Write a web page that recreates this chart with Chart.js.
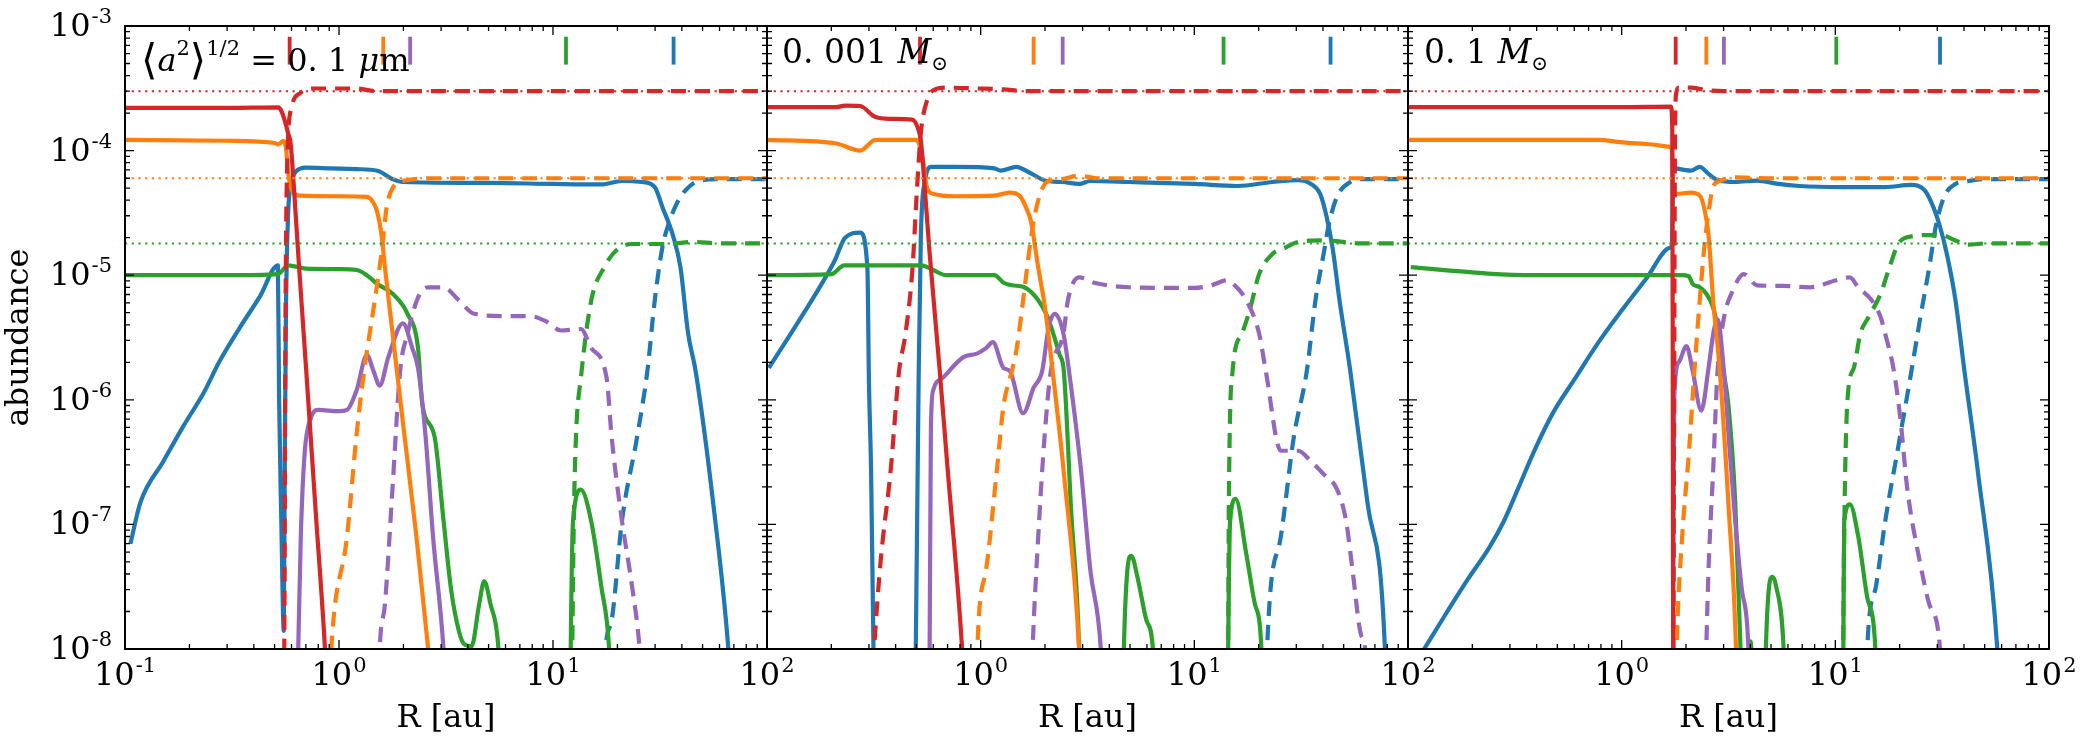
<!DOCTYPE html>
<html>
<head>
<meta charset="utf-8">
<script src="https://cdn.jsdelivr.net/npm/chart.js@4.4.1/dist/chart.umd.min.js"></script>
<style>
  html, body { margin: 0; padding: 0; background: #fff; }
  #wrap { position: relative; width: 2091px; height: 747px; }
  #wrap canvas { position: absolute; left: 0; top: 0; }
</style>
</head>
<body>
<div id="wrap">
  <canvas id="p1" width="2091" height="747"></canvas>
  <canvas id="p2" width="2091" height="747"></canvas>
  <canvas id="p3" width="2091" height="747"></canvas>
</div>
<script>
const FONT = 'DejaVu Serif';
const COLORS = ['#d62728', '#ff7f0e', '#9467bd', '#2ca02c', '#1f77b4']; // red, orange, purple, green, blue

// total abundances (dotted)
const TOTALS = [3.0e-4, 6.0e-5, 1.8e-5];
const TOTAL_COLORS = ['#d62728', '#ff7f0e', '#2ca02c'];

const X_TICKS = [0.1, 1, 10, 100];
const Y_TICKS = [1e-8, 1e-7, 1e-6, 1e-5, 1e-4, 1e-3];

// snowline markers at the top of each panel (red, orange, purple, green, blue)
const P1_SNOW = [0.588, 1.61, 2.15, 11.5, 36.6];
const P2_SNOW = [0.52, 1.77, 2.42, 13.7, 43.4];
const P3_SNOW = [1.79, 2.49, 3.01, 10.1, 30.9];
const SNOW_SPAN = [4.9e-4, 8.2e-4];

// ---- panel 1: <a^2>^1/2 = 0.1 um ----
const P1_RED_SOLID = [[0.1,2.2e-4],[0.3,2.2e-4],[0.52,2.22e-4],[0.54,2.05e-4],[0.56,1.7e-4],[0.58,1.35e-4],[0.594,1.15e-4],[0.62,4.2e-5],[0.65,1.2e-5],[0.7,1.9e-6],[0.78,1.2e-7],[0.86,1e-8],[0.9,2e-9]];
const P1_RED_DASHED = [[0.545,1e-9],[0.555,1e-8],[0.56,1e-6],[0.565,1.5e-5],[0.575,1e-4],[0.6,2.2e-4],[0.66,2.9e-4],[0.78,3.15e-4],[1.2,3.15e-4],[1.5,3.0e-4],[100,3.0e-4]];
const P1_ORANGE_SOLID = [[0.1,1.22e-4],[0.3,1.2e-4],[0.5,1.15e-4],[0.52,1.12e-4],[0.55,1.2e-4],[0.565,1.05e-4],[0.58,6.5e-5],[0.61,4.6e-5],[0.66,4.35e-5],[1.0,4.3e-5],[1.35,4.25e-5],[1.45,3.8e-5],[1.51,3.2e-5],[1.58,2.1e-5],[1.64,1.15e-5],[1.78,3.4e-6],[1.99,6.5e-7],[2.3,8e-8],[2.61,1e-8],[2.8,3e-9]];
const P1_ORANGE_DASHED = [[0.9,4e-9],[0.92,1e-8],[1.09,8e-8],[1.21,5.4e-7],[1.31,1.7e-6],[1.47,6.3e-6],[1.58,1.5e-5],[1.67,3.5e-5],[1.79,5.1e-5],[2.03,5.75e-5],[3,6e-5],[100,6e-5]];
const P1_PURPLE_SOLID = [[0.64,5e-9],[0.645,1e-8],[0.663,8e-8],[0.69,3.6e-7],[0.74,7.2e-7],[0.8,8.3e-7],[1.0,8.1e-7],[1.09,8.3e-7],[1.21,1.2e-6],[1.35,2.3e-6],[1.45,1.7e-6],[1.55,1.3e-6],[1.7,2.2e-6],[1.99,4.1e-6],[2.2,2.6e-6],[2.34,1.8e-6],[2.54,5e-7],[2.75,8e-8],[3.08,1e-8],[3.2,3e-9]];
const P1_PURPLE_DASHED = [[1.52,3e-9],[1.55,1e-8],[1.64,2.3e-8],[1.78,2e-7],[1.93,1.7e-6],[2.09,3.4e-6],[2.34,6.6e-6],[2.61,8e-6],[3.08,8e-6],[3.63,6.3e-6],[4.28,4.9e-6],[6,4.7e-6],[7.8,4.7e-6],[9.2,4.3e-6],[10.9,3.6e-6],[13.5,3.7e-6],[15.1,2.6e-6],[17.8,1.5e-6],[18.8,5e-7],[21,1.07e-7],[23.4,3.2e-8],[25.4,1e-8],[26.5,3e-9]];
const P1_GREEN_SOLID = [[0.1,1.0e-5],[0.3,1.0e-5],[0.518,1.02e-5],[0.58,1.2e-5],[0.7,1.13e-5],[1.0,1.12e-5],[1.21,1.1e-5],[1.35,1.0e-5],[1.51,8.5e-6],[1.78,7.1e-6],[2.09,4.9e-6],[2.34,2.6e-6],[2.45,9.3e-7],[2.8,5e-7],[3.08,1.07e-7],[3.34,3e-8],[3.63,1.4e-8],[3.83,1.1e-8],[4.16,1.05e-8],[4.52,2.3e-8],[4.77,3.5e-8],[5.1,2.3e-8],[5.56,1e-8],[5.8,2e-9],[8,null],[12.0,2e-9],[12.1,1e-8],[12.4,1.05e-7],[13.5,1.9e-7],[15.1,1.05e-7],[16.8,3.2e-8],[18.3,1e-8],[19,2e-9]];
const P1_GREEN_DASHED = [[12.1,2e-9],[12.3,1e-8],[12.5,1e-7],[12.8,5e-7],[13.5,1.5e-6],[15.1,6.3e-6],[17.3,1.15e-5],[19.9,1.6e-5],[23.4,1.78e-5],[35,1.78e-5],[45,1.85e-5],[60,1.8e-5],[100,1.8e-5]];
const P1_BLUE_SOLID = [[0.106,7e-8],[0.118,1.5e-7],[0.151,3.2e-7],[0.188,6.2e-7],[0.234,1.15e-6],[0.275,2.0e-6],[0.344,3.8e-6],[0.428,6.8e-6],[0.518,1.2e-5],[0.525,1e-6],[0.538,1e-7],[0.552,1.4e-8],[0.558,3e-7],[0.565,5e-6],[0.578,3e-5],[0.6,5.5e-5],[0.63,6.8e-5],[0.7,7.3e-5],[0.92,7.2e-5],[1.21,7.1e-5],[1.51,6.9e-5],[1.78,5.9e-5],[1.99,5.6e-5],[5,5.5e-5],[10,5.4e-5],[16.8,5.35e-5],[21,5.7e-5],[26,5.6e-5],[29.9,5.1e-5],[32.5,3.5e-5],[36.3,2.1e-5],[39.4,1.16e-5],[42.8,3.4e-6],[46.4,1.7e-6],[56,1.5e-7],[66,1e-8],[70,2e-9]];
const P1_BLUE_DASHED = [[17,2e-9],[17.6,1e-8],[18.8,1.7e-8],[21,1.07e-7],[24.7,5e-7],[27.6,1.7e-6],[29.9,6.3e-6],[32.5,1.7e-5],[35,2.7e-5],[38,3.8e-5],[41.6,4.8e-5],[47.7,5.7e-5],[60,5.9e-5],[100,5.9e-5]];

// ---- panel 2: 0.001 Msun ----
const P2_RED_SOLID = [[0.1,2.23e-4],[0.211,2.23e-4],[0.232,2.3e-4],[0.273,2.28e-4],[0.322,1.86e-4],[0.379,1.8e-4],[0.478,1.77e-4],[0.506,1.55e-4],[0.525,1.2e-4],[0.538,7.4e-5],[0.577,1.5e-5],[0.64,1.9e-6],[0.698,3e-7],[0.819,1e-8],[0.86,2e-9]];
const P2_RED_DASHED = [[0.3,2e-9],[0.317,1e-8],[0.34,5e-8],[0.379,2.7e-7],[0.415,1.7e-6],[0.445,3.4e-6],[0.48,1.15e-5],[0.5,4e-5],[0.525,1.4e-4],[0.56,2.5e-4],[0.6,3.05e-4],[0.69,3.2e-4],[0.97,3.15e-4],[1.28,3.1e-4],[1.6,3.0e-4],[100,3.0e-4]];
const P2_ORANGE_SOLID = [[0.1,1.22e-4],[0.211,1.14e-4],[0.273,1.0e-4],[0.322,1.22e-4],[0.5,1.22e-4],[0.533,9e-5],[0.56,5.1e-5],[0.6,4.5e-5],[0.76,4.3e-5],[1.16,4.35e-5],[1.37,4.6e-5],[1.53,4.3e-5],[1.63,3.5e-5],[1.72,2.7e-5],[1.86,1.15e-5],[2.0,5.5e-6],[2.2,1.4e-6],[2.45,2.6e-7],[2.89,1e-8],[3.0,2e-9]];
const P2_ORANGE_DASHED = [[0.95,2e-9],[0.965,1e-8],[1.06,4.3e-8],[1.19,2.7e-7],[1.28,9e-7],[1.4,1.7e-6],[1.47,2.5e-6],[1.58,6.3e-6],[1.69,1.6e-5],[1.79,3e-5],[1.9,4.5e-5],[2.04,5.6e-5],[2.4,5.9e-5],[2.89,6.3e-5],[3.5,6e-5],[100,6e-5]];
const P2_PURPLE_SOLID = [[0.57,2e-9],[0.577,1e-8],[0.585,6e-7],[0.6,1.2e-6],[0.664,1.5e-6],[0.83,2.2e-6],[0.96,2.35e-6],[1.06,2.6e-6],[1.14,2.9e-6],[1.28,1.8e-6],[1.37,1.7e-6],[1.58,7.8e-7],[1.77,1.25e-6],[1.94,1.7e-6],[2.08,3.8e-6],[2.22,4.9e-6],[2.44,3.4e-6],[2.63,1.4e-6],[2.95,2.7e-7],[3.26,4.3e-8],[3.65,1e-8],[3.8,2e-9]];
const P2_PURPLE_DASHED = [[1.7,2e-9],[1.75,1e-8],[1.86,8e-8],[1.99,5e-7],[2.13,1.7e-6],[2.44,3.4e-6],[2.56,6.3e-6],[2.89,9.6e-6],[3.4,8.7e-6],[3.92,8.3e-6],[4.95,8.0e-6],[10,7.9e-6],[12,8.3e-6],[14.2,9.1e-6],[15.2,8.5e-6],[17.5,6.3e-6],[20.1,3.4e-6],[21.6,1.7e-6],[25.4,3.9e-7],[30.6,3.9e-7],[35.2,3.2e-7],[40.6,2.5e-7],[46.6,1.9e-7],[51.3,1.07e-7],[55,4.3e-8],[60.3,1.3e-8],[63,1e-8],[65,2e-9]];
const P2_GREEN_SOLID = [[0.1,1.0e-5],[0.2,1.02e-5],[0.23,1.2e-5],[0.525,1.2e-5],[0.55,1.18e-5],[0.6,1.1e-5],[0.69,1.0e-5],[1.16,1.0e-5],[1.28,8.7e-6],[1.4,8.3e-6],[1.6,8e-6],[1.86,6.3e-6],[2.06,4.6e-6],[2.34,2.3e-6],[2.45,1.7e-6],[2.65,1.3e-7],[2.89,1e-8],[2.95,2e-9],[3.5,null],[4.6,2e-9],[4.68,1e-8],[4.86,4.3e-8],[5.07,5.6e-8],[5.43,3.7e-8],[5.97,1.7e-8],[6.4,1e-8],[6.6,2e-9],[10,null],[14.3,2e-9],[14.4,1e-8],[14.7,1.05e-7],[15.6,1.6e-7],[17.5,5.8e-8],[19.2,2.3e-8],[20.6,1e-8],[21,2e-9]];
const P2_GREEN_DASHED = [[14.2,2e-9],[14.4,1e-8],[14.5,1.4e-7],[15.1,1.7e-6],[16.7,3.4e-6],[18.3,5.5e-6],[20.1,1.02e-5],[23.2,1.48e-5],[26.6,1.66e-5],[30.6,1.85e-5],[40.6,1.9e-5],[60,1.8e-5],[100,1.8e-5]];
const P2_BLUE_SOLID = [[0.102,1.8e-6],[0.149,5e-6],[0.207,1.3e-5],[0.232,2e-5],[0.273,2.2e-5],[0.295,1.15e-5],[0.3,1.4e-6],[0.307,2.7e-7],[0.315,1e-8],[0.32,2e-9],[0.4,null],[0.49,2e-9],[0.497,1e-8],[0.513,1.7e-6],[0.525,2.1e-5],[0.55,5.8e-5],[0.585,7.4e-5],[0.76,7.4e-5],[1.16,7.2e-5],[1.24,6.9e-5],[1.47,7.4e-5],[1.68,6.7e-5],[2.04,5.7e-5],[2.4,5.6e-5],[2.89,5.4e-5],[3.26,5.7e-5],[4.95,5.6e-5],[10,5.4e-5],[15.9,5.2e-5],[23.2,5.6e-5],[30.6,5.8e-5],[35.2,5.4e-5],[38.8,4.5e-5],[41.5,3e-5],[44.5,1.6e-5],[47.8,6.3e-6],[53.7,1.7e-6],[64.6,1.5e-7],[78,1e-8],[80,2e-9]];
const P2_BLUE_DASHED = [[21.5,2e-9],[21.9,1e-8],[25.4,8e-8],[29.2,5e-7],[33.6,1.7e-6],[36.9,6.3e-6],[40.6,1.6e-5],[42.5,2.5e-5],[46.6,4.3e-5],[53.7,5.6e-5],[61.8,5.9e-5],[100,5.9e-5]];

// ---- panel 3: 0.1 Msun ----
const P3_RED_SOLID = [[0.1,2.23e-4],[1.0,2.23e-4],[1.7,2.25e-4],[1.725,1.5e-4],[1.735,1e-6],[1.745,1e-9]];
const P3_RED_DASHED = [[1.73,1e-9],[1.745,1e-8],[1.76,1e-6],[1.775,1e-4],[1.8,2.9e-4],[1.85,3.2e-4],[2.1,3.2e-4],[2.5,3.05e-4],[3,3e-4],[100,3e-4]];
const P3_ORANGE_SOLID = [[0.1,1.22e-4],[0.78,1.22e-4],[0.986,1.17e-4],[1.31,1.13e-4],[1.68,1.07e-4],[1.72,1.0e-4],[1.74,5e-5],[1.8,4.5e-5],[2.11,4.6e-5],[2.32,4.35e-5],[2.43,3.5e-5],[2.55,2.1e-5],[2.68,6.3e-6],[2.88,1.7e-6],[3.16,1.45e-7],[3.43,1e-8],[3.5,2e-9]];
const P3_ORANGE_DASHED = [[1.78,2e-9],[1.81,1e-8],[1.92,8e-8],[2.06,3.6e-7],[2.19,1.7e-6],[2.32,6.3e-6],[2.43,1.6e-5],[2.55,3.2e-5],[2.68,5.1e-5],[2.88,5.7e-5],[3.3,6.1e-5],[5,6e-5],[100,6e-5]];
const P3_PURPLE_SOLID = [[1.72,2e-9],[1.74,1e-8],[1.76,1e-6],[1.85,2e-6],[2.01,2.7e-6],[2.15,1.7e-6],[2.36,8.2e-7],[2.55,1.8e-6],[2.7,3.6e-6],[2.81,4.4e-6],[3.01,1.7e-6],[3.2,4e-7],[3.4,1.07e-7],[3.65,3e-8],[3.92,1e-8],[4.0,2e-9]];
const P3_PURPLE_DASHED = [[2.45,2e-9],[2.49,1e-8],[2.55,4.3e-8],[2.68,2.7e-7],[2.81,1.7e-6],[3.0,4.4e-6],[3.32,7.6e-6],[3.73,1.02e-5],[4.3,8.3e-6],[5.73,8.2e-6],[7.62,8.0e-6],[10.1,9.1e-6],[11.7,9.6e-6],[12.8,8e-6],[14.8,6.3e-6],[16.3,4.6e-6],[17.1,3.4e-6],[18.8,1.7e-6],[20.2,6.8e-7],[21.7,1.95e-7],[25,4.8e-8],[27.5,2.3e-8],[30.9,1e-8],[32,2e-9]];
const P3_GREEN_SOLID = [[0.103,1.16e-5],[0.148,1.1e-5],[0.237,1.03e-5],[0.38,1.0e-5],[1.68,1.0e-5],[1.9,1.0e-5],[2.06,9.8e-6],[2.15,8.5e-6],[2.32,8.0e-6],[2.49,7.1e-6],[2.68,5.5e-6],[2.81,3.8e-6],[2.98,1.8e-6],[3.16,9e-7],[3.4,1.5e-7],[3.6,1e-8],[3.7,2e-9],[3.85,null],[3.95,9e-9],[4.01,1.15e-8],[4.07,9e-9],[4.3,null],[4.68,2e-9],[4.73,1e-8],[5.08,3.8e-8],[5.28,3.2e-8],[5.73,1e-8],[5.9,2e-9],[8,null],[10.8,2e-9],[10.9,1e-8],[11.0,1.05e-7],[11.7,1.45e-7],[12.8,8e-8],[14.1,2.6e-8],[15.4,1e-8],[15.8,2e-9]];
const P3_GREEN_DASHED = [[10.8,2e-9],[11.0,8e-8],[11.4,1e-6],[12.2,1.8e-6],[13.1,3.4e-6],[14.3,4.6e-6],[16.3,7.1e-6],[17.9,1.15e-5],[19.7,1.78e-5],[22.7,2.05e-5],[27.5,2.1e-5],[31.3,2.1e-5],[36.5,1.9e-5],[42,1.76e-5],[50.9,1.8e-5],[100,1.8e-5]];
const P3_BLUE_SOLID = [[0.105,7e-9],[0.119,1e-8],[0.15,1.9e-8],[0.19,3.6e-8],[0.24,6.5e-8],[0.28,1.05e-7],[0.33,2e-7],[0.39,3.9e-7],[0.48,8e-7],[0.6,1.45e-6],[0.78,2.9e-6],[1.0,5.2e-6],[1.31,9.5e-6],[1.68,1.66e-5],[1.72,1.75e-5],[1.745,7.3e-5],[1.8,7.2e-5],[2.11,6.9e-5],[2.32,7.4e-5],[2.55,6.5e-5],[2.81,5.8e-5],[3.4,5.6e-5],[4.3,5.75e-5],[5.4,5.4e-5],[6.8,5.2e-5],[10.7,5.1e-5],[17.1,5.1e-5],[22.7,5.3e-5],[26.2,4.8e-5],[28.8,3.5e-5],[30.9,2.45e-5],[33.2,1.5e-5],[36.5,6.3e-6],[40.2,1.7e-6],[46.4,2.7e-7],[57.3,1e-8],[60,2e-9]];
const P3_BLUE_DASHED = [[13.8,2e-9],[14.1,1e-8],[15.5,3.2e-8],[17.1,1.05e-7],[19.7,4.2e-7],[22.7,1.7e-6],[25,4.6e-6],[27.5,1.15e-5],[29.5,2.45e-5],[32.4,4.3e-5],[36.5,5.4e-5],[42,5.7e-5],[50,5.9e-5],[100,5.9e-5]];

const PANELS = [
  { id: 'p1', left: 125, right: 767, note: 'size', snow: P1_SNOW,
    solid: [P1_RED_SOLID, P1_ORANGE_SOLID, P1_PURPLE_SOLID, P1_GREEN_SOLID, P1_BLUE_SOLID],
    dashed: [P1_RED_DASHED, P1_ORANGE_DASHED, P1_PURPLE_DASHED, P1_GREEN_DASHED, P1_BLUE_DASHED] },
  { id: 'p2', left: 767, right: 1408, note: 'm001', snow: P2_SNOW,
    solid: [P2_RED_SOLID, P2_ORANGE_SOLID, P2_PURPLE_SOLID, P2_GREEN_SOLID, P2_BLUE_SOLID],
    dashed: [P2_RED_DASHED, P2_ORANGE_DASHED, P2_PURPLE_DASHED, P2_GREEN_DASHED, P2_BLUE_DASHED] },
  { id: 'p3', left: 1408, right: 2049, note: 'm1', snow: P3_SNOW,
    solid: [P3_RED_SOLID, P3_ORANGE_SOLID, P3_PURPLE_SOLID, P3_GREEN_SOLID, P3_BLUE_SOLID],
    dashed: [P3_RED_DASHED, P3_ORANGE_DASHED, P3_PURPLE_DASHED, P3_GREEN_DASHED, P3_BLUE_DASHED] },
];

function logTicks(min, max) {
  const out = [];
  for (let e = Math.floor(Math.log10(min)); e <= Math.ceil(Math.log10(max)); e++) {
    for (let m = 1; m < 10; m++) {
      const v = Number(m + 'e' + e);
      if (v >= min * 0.9999 && v <= max * 1.0001) out.push([v, m === 1]);
    }
  }
  return out;
}

// "10" with a raised exponent, like matplotlib's log tick labels
function powLabel(ctx, v, x, y, align) {
  const e = String(Math.round(Math.log10(v)));
  ctx.font = `32px "${FONT}"`;
  const wb = ctx.measureText('10').width;
  ctx.font = `21px "${FONT}"`;
  const we = ctx.measureText(e).width + 1;
  const x0 = align === 'center' ? x - (wb + we) / 2 : x - wb - we;
  ctx.font = `32px "${FONT}"`;
  ctx.fillText('10', x0, y);
  ctx.font = `21px "${FONT}"`;
  ctx.fillText(e, x0 + wb + 1, y - 13);
}

function drawPieces(ctx, x, y, pieces) {
  for (const [txt, size, style, dy] of pieces) {
    ctx.font = `${style} ${size}px "${FONT}"`;
    ctx.fillText(txt, x, y + dy);
    x += ctx.measureText(txt).width;
  }
}

function drawNote(ctx, note, a) {
  if (note === 'size') {
    drawPieces(ctx, a.left + 16, a.top + 45, [
      ['\u27E8', 42, 'normal', 3], ['a', 32, 'italic', 0], ['2', 21, 'normal', -16], ['\u27E9', 42, 'normal', 3],
      ['1/2', 21, 'normal', -16], [' = 0. 1 ', 32, 'normal', 0], ['\u03BC', 32, 'italic', 0], ['m', 32, 'normal', 0]]);
  } else if (note === 'm001') {
    drawPieces(ctx, a.left + 15, a.top + 37, [['0. 001 ', 33, 'normal', 0], ['M', 33, 'italic', 0], ['\u2299', 20, 'normal', 7]]);
  } else {
    drawPieces(ctx, a.left + 16, a.top + 37, [['0. 1 ', 33, 'normal', 0], ['M', 33, 'italic', 0], ['\u2299', 20, 'normal', 7]]);
  }
}

const framePlugin = {
  id: 'frame',
  afterDatasetsDraw(chart, args, opts) {
    const { ctx, chartArea: a, scales: { x, y } } = chart;
    ctx.save();
    ctx.strokeStyle = '#000';
    ctx.lineWidth = 1.3;
    ctx.beginPath();
    for (const [v, major] of logTicks(x.min, x.max)) {
      const px = x.getPixelForValue(v), len = major ? 9 : 5;
      ctx.moveTo(px, a.bottom); ctx.lineTo(px, a.bottom - len);
      ctx.moveTo(px, a.top); ctx.lineTo(px, a.top + len);
    }
    for (const [v, major] of logTicks(y.min, y.max)) {
      const py = y.getPixelForValue(v), len = major ? 9 : 5;
      ctx.moveTo(a.left, py); ctx.lineTo(a.left + len, py);
      ctx.moveTo(a.right, py); ctx.lineTo(a.right - len, py);
    }
    ctx.stroke();
    ctx.lineWidth = 2;
    ctx.strokeRect(a.left, a.top, a.right - a.left, a.bottom - a.top);

    ctx.fillStyle = '#000';
    ctx.textBaseline = 'alphabetic';
    ctx.textAlign = 'left';
    X_TICKS.forEach(v => {
      if (opts.first || v > 0.5) powLabel(ctx, v, x.getPixelForValue(v), a.bottom + 36, 'center');
    });
    if (opts.first) Y_TICKS.forEach(v => powLabel(ctx, v, a.left - 13, y.getPixelForValue(v) + 10, 'right'));
    drawNote(ctx, opts.note, a);
    ctx.restore();
  }
};

const pts = arr => arr.map(([x, y]) => ({ x, y }));

function buildDatasets(p) {
  const ds = [];
  TOTALS.forEach((t, i) => ds.push({
    data: [{ x: 0.1, y: t }, { x: 100, y: t }],
    borderColor: TOTAL_COLORS[i], borderWidth: 2, borderDash: [2.2, 4.5],
  }));
  COLORS.forEach((c, i) => {
    ds.push({ data: pts(p.solid[i]), borderColor: c, borderWidth: 4.2 });
    ds.push({ data: pts(p.dashed[i]), borderColor: c, borderWidth: 4.2, borderDash: [15, 9] });
  });
  p.snow.forEach((r, i) => ds.push({
    data: SNOW_SPAN.map(v => ({ x: r, y: v })),
    borderColor: COLORS[i], borderWidth: 3.8, cubicInterpolationMode: 'default',
  }));
  return ds;
}

PANELS.forEach((p, idx) => {
  const first = idx === 0;
  new Chart(document.getElementById(p.id), {
    type: 'line',
    data: { datasets: buildDatasets(p) },
    plugins: [framePlugin],
    options: {
      responsive: false, animation: false, devicePixelRatio: 1,
      layout: { padding: { left: first ? 0 : p.left, right: 2091 - p.right, top: 26, bottom: 0 } },
      elements: {
        point: { radius: 0 },
        line: { fill: false, cubicInterpolationMode: 'monotone', borderCapStyle: 'butt', borderJoinStyle: 'round' },
      },
      plugins: { legend: { display: false }, tooltip: { enabled: false }, frame: { note: p.note, first } },
      scales: {
        x: {
          type: 'logarithmic', min: 0.1, max: 100,
          grid: { display: false, drawTicks: false }, border: { display: false },
          ticks: { display: false },
          title: { display: true, text: 'R [au]', color: '#000', font: { family: FONT, size: 32 }, padding: { top: 0, bottom: 9 } },
          afterFit: s => { s.height = 98; },
        },
        y: {
          type: 'logarithmic', min: 1e-8, max: 1e-3, display: first,
          grid: { display: false, drawTicks: false }, border: { display: false },
          ticks: { display: false },
          title: { display: true, text: 'abundance', color: '#000', font: { family: FONT, size: 32 }, padding: 0 },
          afterFit: s => { s.width = first ? 125 : 0; },
        },
      },
    },
  });
});
</script>
</body>
</html>
